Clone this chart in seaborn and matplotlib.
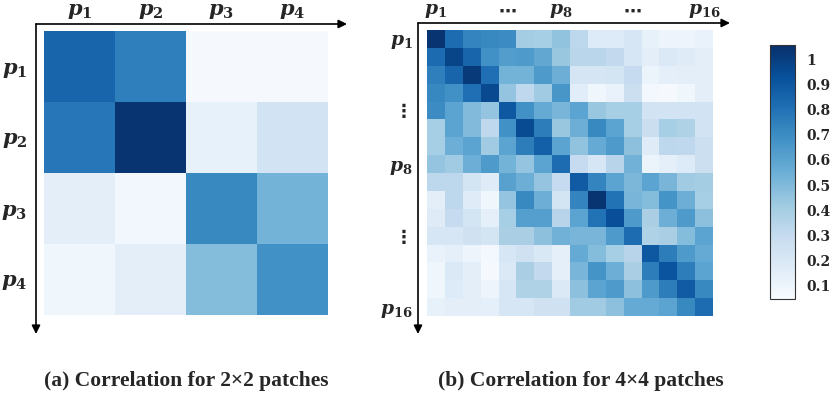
import numpy as np
import pandas as pd
import seaborn as sns
import matplotlib
matplotlib.use("Agg")
import matplotlib.pyplot as plt

# ---------------- data ----------------
corr_2x2 = [
    [0.85, 0.75, 0.06, 0.06],
    [0.78, 1.04, 0.13, 0.24],
    [0.15, 0.08, 0.71, 0.53],
    [0.09, 0.15, 0.49, 0.68],
]
corr_4x4 = [
    [1.04, 0.82, 0.73, 0.71, 0.70, 0.41, 0.40, 0.46, 0.33, 0.18, 0.18, 0.21, 0.13, 0.10, 0.10, 0.12],
    [0.83, 0.98, 0.85, 0.68, 0.63, 0.64, 0.58, 0.44, 0.34, 0.34, 0.31, 0.21, 0.15, 0.19, 0.17, 0.15],
    [0.75, 0.85, 1.02, 0.81, 0.53, 0.53, 0.64, 0.55, 0.22, 0.22, 0.23, 0.30, 0.11, 0.14, 0.15, 0.15],
    [0.72, 0.68, 0.81, 0.96, 0.45, 0.32, 0.42, 0.66, 0.16, 0.09, 0.12, 0.27, 0.07, 0.06, 0.09, 0.15],
    [0.70, 0.60, 0.50, 0.45, 0.90, 0.68, 0.57, 0.52, 0.60, 0.44, 0.40, 0.40, 0.24, 0.24, 0.24, 0.24],
    [0.40, 0.60, 0.50, 0.32, 0.68, 0.95, 0.76, 0.44, 0.55, 0.71, 0.60, 0.40, 0.28, 0.40, 0.37, 0.24],
    [0.40, 0.55, 0.60, 0.42, 0.60, 0.76, 0.87, 0.60, 0.46, 0.57, 0.64, 0.47, 0.17, 0.33, 0.32, 0.27],
    [0.45, 0.42, 0.55, 0.64, 0.53, 0.45, 0.60, 0.82, 0.30, 0.21, 0.35, 0.54, 0.11, 0.14, 0.18, 0.27],
    [0.33, 0.33, 0.23, 0.17, 0.61, 0.55, 0.45, 0.30, 0.89, 0.73, 0.60, 0.51, 0.60, 0.52, 0.42, 0.41],
    [0.15, 0.33, 0.17, 0.09, 0.45, 0.71, 0.55, 0.23, 0.73, 1.04, 0.80, 0.52, 0.49, 0.67, 0.55, 0.40],
    [0.17, 0.30, 0.23, 0.14, 0.40, 0.62, 0.62, 0.35, 0.60, 0.80, 0.94, 0.64, 0.39, 0.55, 0.64, 0.47],
    [0.21, 0.21, 0.25, 0.23, 0.39, 0.39, 0.47, 0.54, 0.52, 0.52, 0.64, 0.82, 0.37, 0.39, 0.49, 0.60],
    [0.12, 0.14, 0.10, 0.07, 0.21, 0.25, 0.20, 0.14, 0.57, 0.49, 0.40, 0.35, 0.90, 0.76, 0.64, 0.57],
    [0.09, 0.19, 0.15, 0.06, 0.19, 0.39, 0.31, 0.14, 0.52, 0.67, 0.55, 0.39, 0.76, 0.92, 0.76, 0.60],
    [0.09, 0.18, 0.15, 0.10, 0.21, 0.37, 0.37, 0.19, 0.47, 0.60, 0.64, 0.47, 0.64, 0.76, 0.89, 0.71],
    [0.13, 0.15, 0.15, 0.14, 0.21, 0.21, 0.25, 0.25, 0.42, 0.42, 0.47, 0.57, 0.57, 0.60, 0.71, 0.82],
]
labels_2x2 = [r'$\boldsymbol{p}_{\mathbf{1}}$', r'$\boldsymbol{p}_{\mathbf{2}}$',
              r'$\boldsymbol{p}_{\mathbf{3}}$', r'$\boldsymbol{p}_{\mathbf{4}}$']
tick_pos_4x4 = [0, 4, 7, 11, 15]
xlabels_4x4 = [r'$\boldsymbol{p}_{\mathbf{1}}$', '\u22ef', r'$\boldsymbol{p}_{\mathbf{8}}$', '\u22ef',
               r'$\boldsymbol{p}_{\mathbf{16}}$']
ylabels_4x4 = [r'$\boldsymbol{p}_{\mathbf{1}}$', '\u22ee', r'$\boldsymbol{p}_{\mathbf{8}}$', '\u22ee',
               r'$\boldsymbol{p}_{\mathbf{16}}$']
cbar_ticks = [0.1, 0.2, 0.3, 0.4, 0.5, 0.6, 0.7, 0.8, 0.9, 1.0]
cbar_ticklabels = ['0.1', '0.2', '0.3', '0.4', '0.5', '0.6', '0.7', '0.8', '0.9', '1']
captions = ['(a) Correlation for 2\u00d72 patches', '(b) Correlation for 4\u00d74 patches']

# ---------------- figure ----------------
sns.set_style("white")
plt.rcParams['mathtext.fontset'] = 'dejavuserif'
plt.rcParams['font.family'] = ['DejaVu Sans']

W, H = 830, 396
fig = plt.figure(figsize=(W / 100, H / 100), dpi=100)

def px_rect(x0, y0, x1, y1):
    return [x0 / W, 1 - y1 / H, (x1 - x0) / W, (y1 - y0) / H]

VMIN, VMAX = 0.048, 1.056
ax1 = fig.add_axes(px_rect(44, 31, 328, 315))
ax2 = fig.add_axes(px_rect(427, 30, 713, 316))
cax = fig.add_axes(px_rect(770, 45, 795, 299))

sns.heatmap(pd.DataFrame(corr_2x2), ax=ax1, cmap="Blues", vmin=VMIN, vmax=VMAX,
            cbar=False, square=False, xticklabels=False, yticklabels=False)
sns.heatmap(pd.DataFrame(corr_4x4), ax=ax2, cmap="Blues", vmin=VMIN, vmax=VMAX,
            cbar=True, cbar_ax=cax, square=False, xticklabels=False, yticklabels=False)

# tick labels for left heatmap
ax1.xaxis.tick_top()
ax1.set_xticks(np.arange(len(labels_2x2)) + 0.5)
ax1.set_xticklabels(labels_2x2, fontsize=15)
ax1.set_yticks(np.arange(len(labels_2x2)) + 0.5)
ax1.set_yticklabels(labels_2x2, fontsize=15, rotation=0)
ax1.tick_params(axis='x', length=0, pad=7)
ax1.tick_params(axis='y', length=0, pad=12)

# tick labels for right heatmap
ax2.xaxis.tick_top()
ax2.set_xticks(np.array(tick_pos_4x4) + 0.5)
ax2.set_xticklabels(xlabels_4x4, fontsize=13.5)
ax2.set_yticks(np.array(tick_pos_4x4) + 0.5)
ax2.set_yticklabels(ylabels_4x4, fontsize=13.5, rotation=0)
ax2.tick_params(axis='x', length=0, pad=7)
ax2.tick_params(axis='y', length=0, pad=10)
for t in ax2.get_xticklabels() + ax2.get_yticklabels():
    if t.get_text() in ('\u22ef', '\u22ee'):
        t.set_fontweight('bold')
        t.set_fontsize(13)

for ax in (ax1, ax2):
    for s in ax.spines.values():
        s.set_visible(False)

# colorbar styling
cb = ax2.collections[0].colorbar
cb.set_ticks(cbar_ticks)
cb.set_ticklabels(cbar_ticklabels)
cax.tick_params(left=True, right=False, labelleft=False, labelright=True,
                direction='in', length=4, width=0.8, color='#333333', pad=8)
for t in cax.get_yticklabels():
    t.set_fontfamily('DejaVu Serif')
    t.set_fontweight('bold')
    t.set_fontsize(10)
cb.outline.set_visible(True)
cb.outline.set_edgecolor('#333333')
cb.outline.set_linewidth(0.8)

# axis arrows (in figure pixel coords)
def arrow(x0, y0, x1, y1):
    fig.add_artist(matplotlib.patches.FancyArrowPatch(
        (x0 / W, 1 - y0 / H), (x1 / W, 1 - y1 / H), transform=fig.transFigure,
        arrowstyle='-|>,head_length=5,head_width=2.5', mutation_scale=1,
        color='black', lw=1.2, shrinkA=0, shrinkB=0))

arrow(36, 24, 347, 24)
arrow(36, 24, 36, 334)
arrow(418, 23, 730, 23)
arrow(418, 23, 418, 334)

# captions
fig.text(186 / W, 1 - 381 / H, captions[0], ha='center', va='center',
         fontsize=15.5, fontweight='bold', family='Liberation Serif')
fig.text(581 / W, 1 - 381 / H, captions[1], ha='center', va='center',
         fontsize=15.5, fontweight='bold', family='Liberation Serif')

fig.savefig("out.png", dpi=100)
